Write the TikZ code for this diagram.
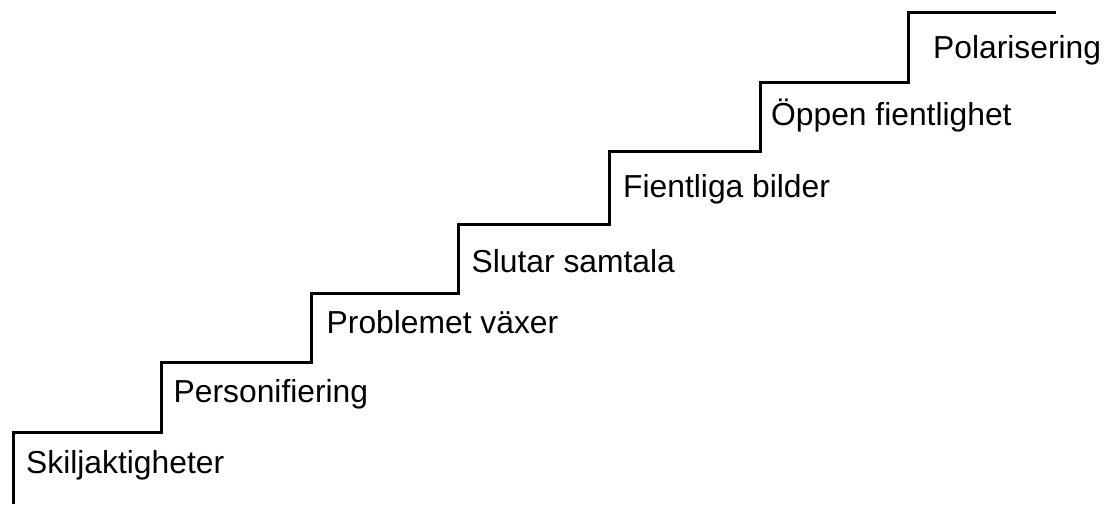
\documentclass[tikz,border=0pt]{standalone}
\usepackage{fontspec}
\setmainfont{Liberation Sans}
\begin{document}
\begin{tikzpicture}[x=1pt,y=-1pt,
  stair/.style={draw=black,line width=3pt,line join=miter},
  lbl/.style={anchor=base west,inner sep=0pt,font=\fontsize{31.8}{38}\selectfont,text=black}]
\useasboundingbox (0,0) rectangle (1104,504);
\coordinate (s0) at (13,504);
\coordinate (s1) at (13,432.5);
\coordinate (s2) at (161,432.5);
\coordinate (s3) at (161,362.5);
\coordinate (s4) at (311,362.5);
\coordinate (s5) at (311,293.3);
\coordinate (s6) at (458.5,293.3);
\coordinate (s7) at (458.5,224);
\coordinate (s8) at (609,224);
\coordinate (s9) at (609,151.5);
\coordinate (s10) at (760,151.5);
\coordinate (s11) at (760,82);
\coordinate (s12) at (908,82);
\coordinate (s13) at (908,12);
\coordinate (s14) at (1056,12);
\draw[stair] (s0) -- (s1) -- (s2) -- (s3) -- (s4) -- (s5) -- (s6) -- (s7) -- (s8) -- (s9) -- (s10) -- (s11) -- (s12) -- (s13) -- (s14);
\node[lbl] (t1) at (26,473.3) {Skiljaktigheter};
\node[lbl] (t2) at (173.5,402.7) {Personifiering};
\node[lbl] (t3) at (326.5,333.3) {Problemet växer};
\node[lbl] (t4) at (471.5,272) {Slutar samtala};
\node[lbl] (t5) at (623,197) {Fientliga bilder};
\node[lbl] (t6) at (771,125) {Öppen fientlighet};
\node[lbl] (t7) at (933,58.5) {Polarisering};
\end{tikzpicture}
\end{document}
